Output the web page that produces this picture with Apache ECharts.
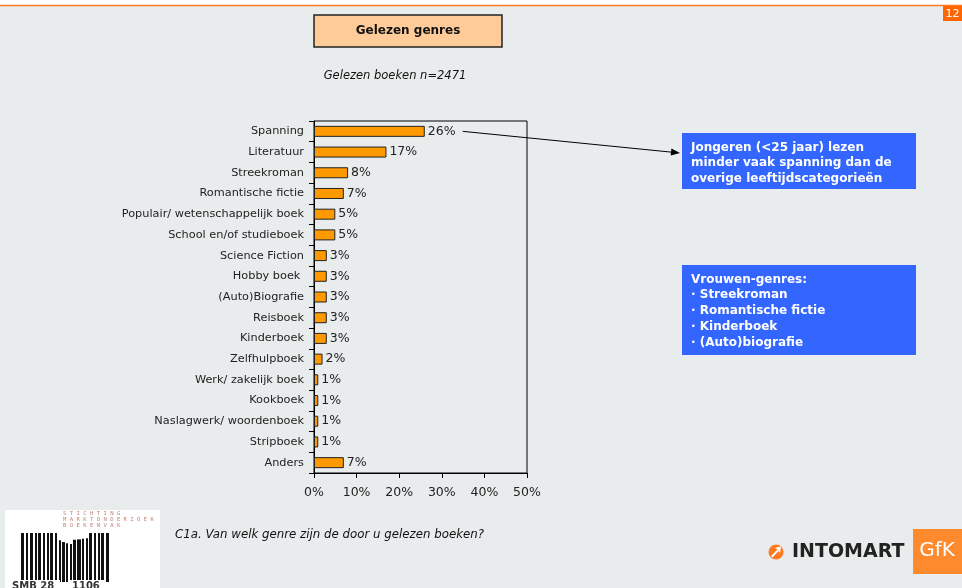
<!DOCTYPE html>
<html>
<head>
<meta charset="utf-8">
<script src="https://cdn.jsdelivr.net/npm/echarts@6/dist/echarts.min.js"></script>
<style>
  html, body { margin: 0; padding: 0; background: #E9ECED; }
  #chart { width: 962px; height: 588px; }
</style>
</head>
<body>
<div id="chart"></div>
<script>
// Genres read, share of books (%)
const genres = [
  'Spanning', 'Literatuur', 'Streekroman', 'Romantische fictie',
  'Populair/ wetenschappelijk boek', 'School en/of studieboek', 'Science Fiction',
  'Hobby boek ', '(Auto)Biografie', 'Reisboek', 'Kinderboek', 'Zelfhulpboek',
  'Werk/ zakelijk boek', 'Kookboek', 'Naslagwerk/ woordenboek', 'Stripboek', 'Anders'
];
const shares = [26, 17, 8, 7, 5, 5, 3, 3, 3, 3, 3, 2, 1, 1, 1, 1, 7];
const xTicks = [0, 10, 20, 30, 40, 50];

const calloutYoung = ['Jongeren (<25 jaar) lezen', 'minder vaak spanning dan de', 'overige leeftijdscategorieën'];
const calloutWomen = ['Vrouwen-genres:', '· Streekroman', '· Romantische fictie', '· Kinderboek', '· (Auto)biografie'];

const FONT = 'DejaVu Sans';
const chart = echarts.init(document.getElementById('chart'));

// barcode of the foundation logo: [left, width] of each black bar
const barcode = [[21,3],[26,2],[30,3],[35,2],[38,3],[43,2],[47,2],[50,3],[55,2],[59,2],[62,3],[66,2],
                 [70,2],[73,3],[77,4],[82,2],[86,2],[89,3],[94,2],[98,2],[101,3],[106,3]];
const barcodeEls = barcode.map(([x, w]) => {
  const c = x + w / 2;
  // the middle of the code dips like an open book
  const top = (c > 56 && c < 88) ? 538 + 6 * Math.sin(Math.PI * (c - 56) / 32) * (c < 72 ? 1 : 0.3) : 533;
  return { type: 'rect', shape: { x: x, y: top, width: w, height: 582 - top }, style: { fill: '#111' }, silent: true };
});

const decorations = [
  // top rule and page number
  { id: 'topWhite', type: 'rect', shape: { x: 0, y: 0, width: 962, height: 5 }, style: { fill: '#fff' }, silent: true },
  { id: 'topRule', type: 'line', shape: { x1: 0, y1: 5.5, x2: 962, y2: 5.5 }, style: { stroke: '#FF7A22', lineWidth: 1.5 }, silent: true },
  { id: 'pageBox', type: 'rect', shape: { x: 943, y: 6, width: 19, height: 15 }, style: { fill: '#FF6600' }, silent: true },
  { id: 'pageNum', type: 'text', x: 952.5, y: 14, style: { text: '12', fill: '#fff', font: '11px ' + FONT, align: 'center', verticalAlign: 'middle' }, silent: true },
  // title box
  { id: 'titleBox', type: 'rect', shape: { x: 314, y: 15, width: 188, height: 32 }, style: { fill: '#FFCC99', stroke: '#222', lineWidth: 1.5 }, silent: true },
  { id: 'title', type: 'text', x: 408, y: 31, style: { text: 'Gelezen genres', fill: '#111', font: 'bold 12px ' + FONT, align: 'center', verticalAlign: 'middle' }, silent: true },
  // subtitle
  { id: 'subtitle', type: 'text', x: 395, y: 76, style: { text: 'Gelezen boeken n=2471', fill: '#111', font: 'italic 11.5px ' + FONT, align: 'center', verticalAlign: 'middle' }, silent: true },
  // callout boxes
  { id: 'boxYoung', type: 'rect', shape: { x: 682, y: 133, width: 234, height: 56 }, style: { fill: '#3366FF' }, silent: true },
  { id: 'txtYoung', type: 'text', x: 691, y: 163, style: { text: calloutYoung.join('\n'), fill: '#fff', font: 'bold 12px ' + FONT, lineHeight: 15.5, verticalAlign: 'middle' }, silent: true },
  { id: 'boxWomen', type: 'rect', shape: { x: 682, y: 265, width: 234, height: 90 }, style: { fill: '#3366FF' }, silent: true },
  { id: 'txtWomen', type: 'text', x: 691, y: 311, style: { text: calloutWomen.join('\n'), fill: '#fff', font: 'bold 12px ' + FONT, lineHeight: 15.8, verticalAlign: 'middle' }, silent: true },
  // question
  { id: 'question', type: 'text', x: 175, y: 535, style: { text: 'C1a. Van welk genre zijn de door u gelezen boeken?', fill: '#111', font: 'italic 11.8px ' + FONT, verticalAlign: 'middle' }, silent: true },
  // foundation logo
  { id: 'logoBg', type: 'rect', shape: { x: 5, y: 510, width: 155, height: 78 }, style: { fill: '#fff' }, silent: true },
  { id: 'logoTxt', type: 'text', x: 63, y: 510, style: { text: 'S T I C H T I N G\nM A R K T O N D E R Z O E K\nB O E K E N V A K', fill: '#C08478', font: '5.6px "DejaVu Sans Mono"', lineHeight: 6.3 }, silent: true },
  ...barcodeEls,
  { id: 'codeGapL', type: 'rect', shape: { x: 8, y: 580, width: 52, height: 8 }, style: { fill: '#fff' }, silent: true },
  { id: 'codeGapR', type: 'rect', shape: { x: 70, y: 580, width: 34, height: 8 }, style: { fill: '#fff' }, silent: true },
  { id: 'codeTxt1', type: 'text', x: 12, y: 586, style: { text: 'SMB 28', fill: '#333', font: 'bold 10px ' + FONT, verticalAlign: 'middle' }, silent: true },
  { id: 'codeTxt2', type: 'text', x: 72, y: 586, style: { text: '1106', fill: '#333', font: 'bold 10px ' + FONT, verticalAlign: 'middle' }, silent: true },
  // research agency logo
  { id: 'icon', type: 'circle', shape: { cx: 776, cy: 552, r: 7.5 }, style: { fill: '#FF7A22' }, silent: true },
  { id: 'iconArrow', type: 'polygon', shape: { points: [[771, 556], [777.5, 549.5], [775, 548], [781, 546.5], [780, 553], [778.5, 551], [772.5, 557.5]] }, style: { fill: '#fff' }, silent: true },
  { id: 'intomart', type: 'text', x: 792, y: 552, style: { text: 'INTOMART', fill: '#222', font: 'bold 19px ' + FONT, verticalAlign: 'middle' }, silent: true },
  { id: 'gfkBox', type: 'rect', shape: { x: 913, y: 529, width: 49, height: 45 }, style: { fill: '#FF8A2E' }, silent: true },
  { id: 'gfk', type: 'text', x: 937, y: 551, style: { text: 'GfK', fill: '#fff', font: '20px ' + FONT, align: 'center', verticalAlign: 'middle' }, silent: true }
];

chart.setOption({
  backgroundColor: '#E9ECED',
  animation: false,
  textStyle: { fontFamily: FONT },
  grid: {
    left: 314, right: 435, top: 121, bottom: 115,
    show: true, borderColor: '#000', borderWidth: 1, backgroundColor: 'transparent'
  },
  xAxis: {
    type: 'value', min: xTicks[0], max: xTicks[xTicks.length - 1], interval: 10,
    axisLine: { show: true, lineStyle: { color: '#000' } },
    axisTick: { show: true, length: 5, lineStyle: { color: '#000' } },
    splitLine: { show: false },
    axisLabel: { formatter: '{value}%', color: '#222', fontSize: 12.5, margin: 13, fontFamily: FONT }
  },
  yAxis: {
    type: 'category', data: genres, inverse: true,
    axisLine: { show: true, lineStyle: { color: '#000' } },
    axisTick: { show: true, length: 5, inside: false, lineStyle: { color: '#000' } },
    axisLabel: { color: '#222', fontSize: 11.3, margin: 10, fontFamily: FONT }
  },
  series: [{
    type: 'bar', data: shares, barWidth: 11,
    itemStyle: { color: '#FF9900', borderColor: '#222', borderWidth: 1 },
    label: {
      show: true, position: 'right', distance: 3, formatter: '{c}%',
      color: '#222', fontSize: 12.5, fontFamily: FONT
    }
  }],
  graphic: decorations
});

// arrow from the top bar's label to the first callout
const p = chart.convertToPixel({ xAxisIndex: 0, yAxisIndex: 0 }, [shares[0], genres[0]]);
const x1 = p[0] + 38, y1 = p[1];
const x2 = 680, y2 = 153;
const ang = Math.atan2(y2 - y1, x2 - x1);
const ah = 9, aw = 3.5;
const bx = x2 - ah * Math.cos(ang), by = y2 - ah * Math.sin(ang);
chart.setOption({
  graphic: [
    { id: 'arrowLine', type: 'line', shape: { x1: x1, y1: y1, x2: bx, y2: by }, style: { stroke: '#000', lineWidth: 1 }, silent: true },
    { id: 'arrowHead', type: 'polygon', shape: { points: [[x2, y2], [bx - aw * Math.sin(ang), by + aw * Math.cos(ang)], [bx + aw * Math.sin(ang), by - aw * Math.cos(ang)]] }, style: { fill: '#000' }, silent: true }
  ]
});
</script>
</body>
</html>
